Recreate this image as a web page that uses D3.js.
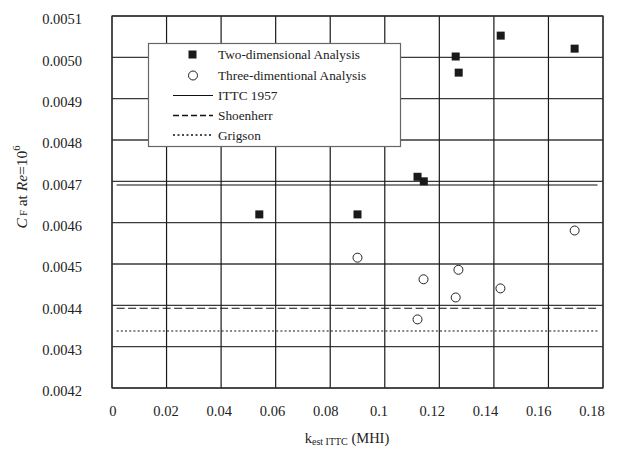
<!DOCTYPE html>
<html><head><meta charset="utf-8">
<script src="https://cdn.jsdelivr.net/npm/d3@7"></script>
<style>body{margin:0;background:#fff}svg{display:block}</style>
</head><body>
<svg id="c" width="621" height="457"></svg>
<script>
const xTicks = [0,0.02,0.04,0.06,0.08,0.1,0.12,0.14,0.16,0.18];
const yTicks = [0.0042,0.0043,0.0044,0.0045,0.0046,0.0047,0.0048,0.0049,0.0050,0.0051];
const twoDX = [0.054,0.090,0.112,0.1143,0.126,0.1271,0.1425,0.1696];
const twoDY = [0.00462,0.00462,0.004711,0.00470,0.005002,0.004963,0.0050525,0.005021];
const threeDX = [0.090,0.1142,0.1270,0.1260,0.1424,0.1696,0.1120];
const threeDY = [0.0045153,0.004463,0.004486,0.004419,0.004441,0.004581,0.004366];
const lineNames = ["ITTC 1957","Shoenherr","Grigson"];
const lineValues = [0.004691,0.004393,0.004338];
const lineXRange = [0.0017,0.178];
const legendLabels = ["Two-dimensional Analysis","Three-dimentional Analysis","ITTC 1957","Shoenherr","Grigson"];

const svg = d3.select("#c");
const font = "'Liberation Serif','Times New Roman',serif";
const L=112,R=603,T=16,B=388;
const x = d3.scaleLinear().domain([0,0.18]).range([L,R]);
const y = d3.scaleLinear().domain([0.0042,0.0051]).range([B,T]);
const xLab = d3.scaleLinear().domain([0,0.18]).range([112.3,591.5]);

// grid
svg.append("g").selectAll("line").data(yTicks).join("line")
  .attr("x1",L).attr("x2",R).attr("y1",d=>y(d)).attr("y2",d=>y(d))
  .attr("stroke","#3a3a3a").attr("stroke-width",1.3);
svg.append("g").selectAll("line").data(xTicks).join("line")
  .attr("x1",d=>x(d)).attr("x2",d=>x(d)).attr("y1",T).attr("y2",B)
  .attr("stroke","#1a1a1a").attr("stroke-width",1.2);
svg.append("rect").attr("x",L).attr("y",T).attr("width",R-L).attr("height",B-T)
  .attr("fill","none").attr("stroke","#333").attr("stroke-width",1.2);

// axes labels via d3 axis
const xAxis = svg.append("g").attr("transform",`translate(0,${B})`)
  .call(d3.axisBottom(xLab).tickValues(xTicks).tickSize(0).tickPadding(18).tickFormat(d=>d3.format("")(+d.toFixed(2))));
xAxis.select(".domain").remove();
xAxis.selectAll("text").attr("font-family",font).attr("font-size",14.5).attr("fill","#222");
const yAxis = svg.append("g").attr("transform",`translate(${L},0)`)
  .call(d3.axisLeft(y).tickValues(yTicks).tickSize(0).tickPadding(30).tickFormat(d3.format(".4f")));
yAxis.select(".domain").remove();
yAxis.selectAll("text").attr("font-family",font).attr("font-size",14.5).attr("fill","#222").attr("dy","0.55em");

// reference lines
const dashes = [null,"8,3.5","2,2.2"];
svg.append("g").selectAll("line").data(lineValues).join("line")
  .attr("x1",x(lineXRange[0])).attr("x2",x(lineXRange[1]))
  .attr("y1",d=>y(d)).attr("y2",d=>y(d))
  .attr("stroke","#111").attr("stroke-width",1.1)
  .attr("stroke-dasharray",(d,i)=>dashes[i]);

// points
svg.append("g").selectAll("rect").data(twoDX).join("rect")
  .attr("x",(d)=>x(d)-4).attr("y",(d,i)=>y(twoDY[i])-4)
  .attr("width",8).attr("height",8).attr("fill","#1a1a1a");
svg.append("g").selectAll("circle").data(threeDX).join("circle")
  .attr("cx",d=>x(d)).attr("cy",(d,i)=>y(threeDY[i])).attr("r",4.5)
  .attr("fill","#fff").attr("stroke","#222").attr("stroke-width",1);

// legend
const lg = svg.append("g");
lg.append("rect").attr("x",148.5).attr("y",43.5).attr("width",252).attr("height",103)
  .attr("fill","#fff").attr("stroke","#666").attr("stroke-width",1.2);
const ly = [54.5,75.5,95.5,115.5,135];
lg.append("rect").attr("x",188.5).attr("y",ly[0]-4).attr("width",8).attr("height",8).attr("fill","#1a1a1a");
lg.append("circle").attr("cx",193).attr("cy",ly[1]).attr("r",4.5).attr("fill","#fff").attr("stroke","#222");
[2,3,4].forEach((k,i)=>{
  lg.append("line").attr("x1",173).attr("x2",213).attr("y1",ly[k]).attr("y2",ly[k])
    .attr("stroke","#111").attr("stroke-width",k==2?1:1.5).attr("stroke-dasharray",dashes[i]? (i==1?"6,3":"2,2.5"):null);
});
lg.selectAll("text").data(legendLabels).join("text")
  .attr("x",218).attr("y",(d,i)=>ly[i]).attr("dy","0.35em")
  .attr("font-family",font).attr("font-size",13.3).attr("fill","#222").text(d=>d);

// x title
const xt = svg.append("text").attr("x",347).attr("y",443).attr("text-anchor","middle")
  .attr("font-family",font).attr("font-size",14.5).attr("fill","#222");
xt.append("tspan").text("k");
xt.append("tspan").attr("font-size",10).attr("dy",2).text("est ITTC");
xt.append("tspan").attr("dy",-2).text(" (MHI)");

// y title
const yt = svg.append("text").attr("transform","translate(27,187) rotate(-90)")
  .attr("text-anchor","middle").attr("font-family",font).attr("font-size",15.5).attr("fill","#222");
yt.append("tspan").attr("font-style","italic").text("C");
yt.append("tspan").attr("font-size",10).text(" F");
yt.append("tspan").text(" at ");
yt.append("tspan").attr("font-style","italic").text("Re");
yt.append("tspan").text("=10");
yt.append("tspan").attr("font-size",10.5).attr("dy",-7).text("6");
</script>
</body></html>
